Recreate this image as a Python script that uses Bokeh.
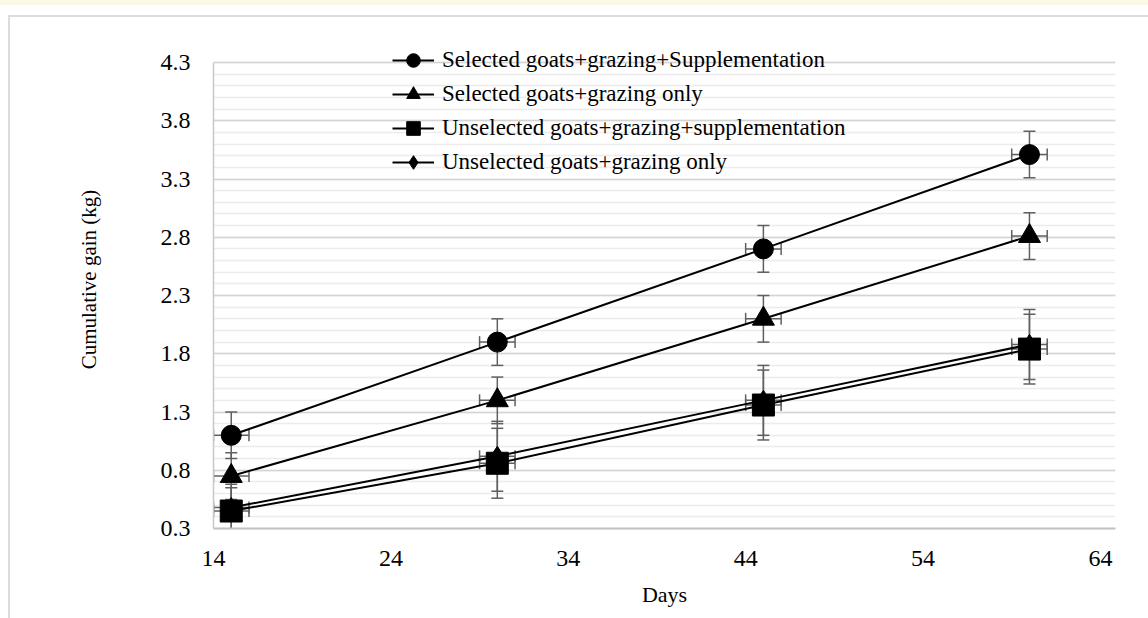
from bokeh.plotting import figure
from bokeh.models import (ColumnDataSource, Whisker, TeeHead, Legend, LegendItem,
                          FixedTicker)
from bokeh.embed import file_html
from bokeh.resources import INLINE

# ---- data ----
days = [15, 30, 45, 60]
day_err = [1, 1, 1, 1]
series_names = [
    "Selected goats+grazing+Supplementation",
    "Selected goats+grazing only",
    "Unselected goats+grazing+supplementation",
    "Unselected goats+grazing only",
]
sel_sup = [1.10, 1.90, 2.70, 3.51]
sel_sup_err = [0.2, 0.2, 0.2, 0.2]
sel_graze = [0.75, 1.40, 2.10, 2.81]
sel_graze_err = [0.2, 0.2, 0.2, 0.2]
unsel_sup = [0.45, 0.86, 1.36, 1.84]
unsel_sup_err = [0.2, 0.3, 0.3, 0.3]
unsel_graze = [0.48, 0.92, 1.40, 1.88]
unsel_graze_err = [0.2, 0.3, 0.3, 0.3]
x_ticks = [14, 24, 34, 44, 54, 64]
y_ticks = [0.3, 0.8, 1.3, 1.8, 2.3, 2.8, 3.3, 3.8, 4.3]
y_minor = [round(0.3 + 0.1 * i, 2) for i in range(41)]

FONT = "Liberation Serif"

p = figure(width=1148, height=618, output_backend="svg", toolbar_location=None,
           x_range=(14, 64.85), y_range=(0.3, 4.575),
           min_border_left=213, min_border_right=33, min_border_top=30,
           min_border_bottom=90)
p.background_fill_color = "white"
p.border_fill_color = "white"
p.border_fill_alpha = 0
p.outline_line_color = None
p.styles = {
    "background": ("linear-gradient(#fdf8e6,#fdf8e6) 0px 0px / 100% 5px no-repeat, "
                   "linear-gradient(#dcdcdc,#dcdcdc) 8px 15px / 2px 100% no-repeat, "
                   "linear-gradient(#dcdcdc,#dcdcdc) 8px 15px / 100% 2px no-repeat, "
                   "white"),
}

# grid
p.xgrid.grid_line_color = None
p.yaxis.ticker = FixedTicker(ticks=y_ticks, minor_ticks=y_minor)
p.xaxis.ticker = FixedTicker(ticks=x_ticks)
p.ygrid.grid_line_color = "#d4d4d4"
p.ygrid.grid_line_width = 1.5
p.ygrid.minor_grid_line_color = "#ececec"
p.ygrid.minor_grid_line_width = 1.5

for ax in (p.xaxis, p.yaxis):
    ax.major_tick_line_color = None
    ax.minor_tick_line_color = None
    ax.major_label_text_font = FONT
    ax.major_label_text_font_size = "24px"
    ax.major_label_text_color = "#000000"
    ax.axis_label_text_font = FONT
    ax.axis_label_text_font_style = "normal"
    ax.axis_label_text_color = "#000000"
p.xaxis.axis_label_text_font_size = "22px"
p.yaxis.axis_label_text_font_size = "21px"
p.yaxis.axis_line_color = "#c8c8c8"
p.yaxis.axis_line_width = 1.5
p.yaxis.bounds = (0.3, 4.3)
p.xaxis.axis_line_color = "#c0c0c0"
p.xaxis.axis_line_width = 2
p.xaxis.axis_label = "Days"
p.yaxis.axis_label = "Cumulative gain (kg)"
p.xaxis.major_label_standoff = 16
p.yaxis.major_label_standoff = 17
p.xaxis.axis_label_standoff = 13
p.yaxis.axis_label_standoff = 57

ys = [sel_sup, sel_graze, unsel_sup, unsel_graze]
errs = [sel_sup_err, sel_graze_err, unsel_sup_err, unsel_graze_err]
markers = ["circle", "triangle", "square", "diamond"]
sizes = [20, 22, 22, 20]
ERR = "#606060"

srcs = []
for y, e in zip(ys, errs):
    src = ColumnDataSource(dict(
        x=days, y=y,
        yu=[a + b for a, b in zip(y, e)], yl=[a - b for a, b in zip(y, e)],
        xu=[a + b for a, b in zip(days, day_err)], xl=[a - b for a, b in zip(days, day_err)],
    ))
    for dim, base, up, lo in (("height", "x", "yu", "yl"), ("width", "y", "xu", "xl")):
        p.add_layout(Whisker(
            source=src, base=base, upper=up, lower=lo, dimension=dim,
            line_color=ERR, line_width=1.5,
            upper_head=TeeHead(size=12, line_color=ERR, line_width=1.5),
            lower_head=TeeHead(size=12, line_color=ERR, line_width=1.5)))
    srcs.append(src)

items = []
for src, m, s, name in zip(srcs, markers, sizes, series_names):
    lr = p.line("x", "y", source=src, line_color="black", line_width=2)
    sr = p.scatter("x", "y", source=src, marker=m, size=s, fill_color="black",
                   line_color="black")
    items.append(LegendItem(label=name, renderers=[lr, sr]))

legend = Legend(items=items, location=(179, 349), padding=0, margin=0, spacing=0,
                glyph_width=42, glyph_height=34, label_height=34, label_standoff=8,
                background_fill_alpha=0, border_line_color=None,
                label_text_font=FONT, label_text_font_size="23px",
                label_text_color="#000000")
p.add_layout(legend)

open("out.html", "w").write(file_html(p, INLINE))
